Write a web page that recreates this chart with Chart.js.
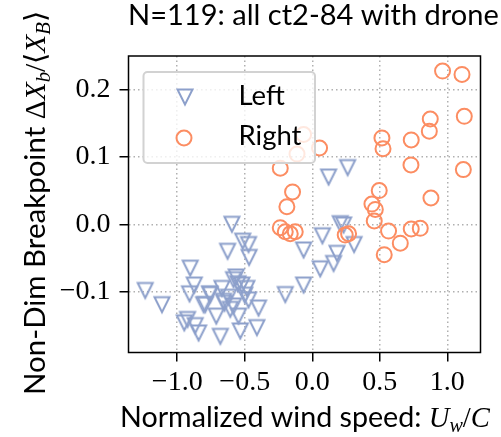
<!DOCTYPE html>
<html>
<head>
<meta charset="utf-8">
<script src="https://cdn.jsdelivr.net/npm/chart.js@4.4.1/dist/chart.umd.min.js"></script>
<style>
html, body { margin: 0; padding: 0; background: #fff; }
</style>
</head>
<body>
<canvas id="chart" width="501" height="437"></canvas>
<script>
// values
var seriesNames = ['Left', 'Right'];

var leftX = [-1.237, -1.113, -0.904, -0.874, -0.909, -0.948, -0.924, -0.867, -0.842, -0.761,
             -0.805, -0.669, -0.711, -0.681, -0.627, -0.595, -0.650, -0.607, -0.583, -0.515,
             -0.472, -0.468, -0.563, -0.521, -0.484, -0.756, -0.793, -0.657, -0.583, -0.472,
             -0.398, -0.546, -0.533, -0.410, -0.200, -0.064, -0.064, 0.121, 0.262, 0.075,
             0.207, 0.232, 0.310, 0.183, 0.158, 0.059, -0.550, -0.500, -0.620];
var leftY = [-0.098, -0.119, -0.065, -0.090, -0.103, -0.146, -0.141, -0.150, -0.161, -0.103,
             -0.119, -0.095, -0.136, -0.166, -0.040, 0.000, -0.117, -0.126, -0.082, -0.025,
             -0.030, -0.049, -0.078, -0.090, -0.095, -0.104, -0.119, -0.114, -0.121, -0.112,
             -0.124, -0.136, -0.158, -0.153, -0.104, -0.090, -0.038, 0.070, 0.084, -0.017,
             0.001, -0.001, -0.030, -0.043, -0.058, -0.066, -0.088, -0.105, -0.108];

var rightX = [0.965, 1.109, 1.126, 0.874, 0.867, 0.516, 0.524, 0.733, 0.731, 1.119,
              0.496, 0.879, 0.442, 0.467, 0.459, 0.565, 0.733, 0.800, 0.652, 0.533,
              -0.064, -0.113, 0.054, -0.237, -0.146, -0.188, -0.237, -0.200, -0.163, -0.126,
              0.244, 0.269];
var rightY = [0.227, 0.222, 0.160, 0.156, 0.138, 0.128, 0.112, 0.125, 0.088, 0.081,
              0.050, 0.039, 0.030, 0.022, 0.005, -0.010, -0.007, -0.006, -0.028, -0.045,
              0.133, 0.104, 0.113, 0.083, 0.048, 0.026, -0.005, -0.011, -0.014, -0.011,
              -0.016, -0.014];

var xTicks = [-1.0, -0.5, 0.0, 0.5, 1.0];
var yTicks = [-0.1, 0.0, 0.1, 0.2];

var blue = '#8da0cb';
var orange = '#fc8d62';
var SANS = 'Lato';
var SERIF = '"Liberation Serif"';

function toPoints(xs, ys) {
    return xs.map(function (x, i) { return { x: x, y: ys[i] }; });
}

// matplotlib style "v" marker, open
function makeTriangle(color) {
    var c = document.createElement('canvas');
    c.width = 26; c.height = 26;
    var g = c.getContext('2d');
    var s = 7.5, m = 13;
    g.strokeStyle = color;
    g.lineWidth = 2;
    g.lineJoin = 'miter';
    g.beginPath();
    g.moveTo(m - s, m - s);
    g.lineTo(m + s, m - s);
    g.lineTo(m, m + s);
    g.closePath();
    g.stroke();
    return c;
}
var triImg = makeTriangle(blue);

function minusFmt(v) {
    return v.toFixed(1).replace('-', '\u2212');
}

// draws text pieces in mixed fonts, scaled to fill a target width
function drawRich(ctx, segs, cx, baseline, target) {
    var base = 100, total = 0;
    segs.forEach(function (s) {
        ctx.font = (s.style || '') + ' ' + (base * (s.rel || 1)) + 'px ' + s.fam;
        total += ctx.measureText(s.t).width;
    });
    var k = target / total;
    var x = cx - target / 2;
    ctx.textBaseline = 'alphabetic';
    ctx.textAlign = 'left';
    segs.forEach(function (s) {
        var size = base * (s.rel || 1) * k;
        ctx.font = (s.style || '') + ' ' + size + 'px ' + s.fam;
        ctx.fillText(s.t, x, baseline + (s.dy || 0) * base * k);
        x += ctx.measureText(s.t).width;
    });
}

var decor = {
    id: 'decor',
    afterDatasetsDraw: function (chart) {
        var ctx = chart.ctx, a = chart.chartArea;
        ctx.save();
        // legend box
        var bx = 143.5, by = 72, bw = 171.5, bh = 91, r = 4;
        ctx.beginPath();
        ctx.roundRect(bx, by, bw, bh, r);
        ctx.fillStyle = 'rgba(255,255,255,0.8)';
        ctx.fill();
        ctx.strokeStyle = '#d2d2d2';
        ctx.lineWidth = 2;
        ctx.stroke();
        ctx.drawImage(triImg, 185 - 13, 97 - 13);
        ctx.beginPath();
        ctx.arc(184, 138, 7.5, 0, Math.PI * 2);
        ctx.strokeStyle = orange;
        ctx.lineWidth = 2;
        ctx.stroke();
        ctx.fillStyle = '#000';
        ctx.font = '100px ' + SANS;
        var ls = 100 * 63 / ctx.measureText(seriesNames[1]).width;
        ctx.font = ls + 'px ' + SANS;
        ctx.textAlign = 'left';
        ctx.textBaseline = 'alphabetic';
        ctx.fillText(seriesNames[0], 238.5, 105);
        ctx.fillText(seriesNames[1], 238.5, 145);

        // frame
        ctx.strokeStyle = '#000';
        ctx.lineWidth = 1.5;
        ctx.strokeRect(a.left, a.top, a.right - a.left, a.bottom - a.top);
        ctx.restore();
    },
    afterDraw: function (chart) {
        var ctx = chart.ctx;
        ctx.save();
        ctx.fillStyle = '#000';
        // title
        drawRich(ctx, [{ t: 'N=119: all ct2-84 with drone', fam: SANS }], 313.5, 25, 371);
        // x label
        drawRich(ctx, [
            { t: 'Normalized wind speed: ', fam: SANS },
            { t: 'U', fam: SERIF, style: 'italic' },
            { t: 'w', fam: SERIF, style: 'italic', rel: 0.7, dy: 0.18 },
            { t: '/', fam: SERIF },
            { t: 'C', fam: SERIF, style: 'italic' }
        ], 305, 427, 370);
        // y label
        ctx.translate(45, 202.5);
        ctx.rotate(-Math.PI / 2);
        drawRich(ctx, [
            { t: 'Non-Dim Breakpoint ', fam: SANS },
            { t: '\u0394', fam: SERIF },
            { t: 'X', fam: SERIF, style: 'italic' },
            { t: 'b', fam: SERIF, style: 'italic', rel: 0.7, dy: 0.18 },
            { t: '/\u27E8', fam: SERIF },
            { t: 'X', fam: SERIF, style: 'italic' },
            { t: 'B', fam: SERIF, style: 'italic', rel: 0.7, dy: 0.18 },
            { t: '\u27E9', fam: SERIF }
        ], 0, 0, 385);
        ctx.restore();
    }
};

var ctx = document.getElementById('chart').getContext('2d');
new Chart(ctx, {
    type: 'scatter',
    data: {
        datasets: [{
            label: seriesNames[0],
            data: toPoints(leftX, leftY),
            pointStyle: triImg,
            order: 1
        }, {
            label: seriesNames[1],
            data: toPoints(rightX, rightY),
            pointStyle: 'circle',
            pointRadius: 7.5,
            borderWidth: 2,
            borderColor: orange,
            backgroundColor: 'rgba(0,0,0,0)',
            order: 0
        }]
    },
    options: {
        responsive: false,
        animation: false,
        events: [],
        layout: { padding: { top: 56, right: 20.5, left: 0, bottom: 0 } },
        plugins: { legend: { display: false }, tooltip: { enabled: false }, title: { display: false } },
        scales: {
            x: {
                type: 'linear',
                min: -1.361,
                max: 1.246,
                afterFit: function (s) { s.height = 84.5; },
                afterBuildTicks: function (s) { s.ticks = xTicks.map(function (v) { return { value: v }; }); },
                grid: { color: '#b0b0b0', lineWidth: 1.5, tickLength: 9, tickColor: '#000', tickWidth: 1.5 },
                border: { display: false, dash: [1.5, 3] },
                ticks: {
                    color: '#000', padding: 4, maxRotation: 0, autoSkip: false,
                    font: { family: 'Liberation Serif', size: 28 },
                    callback: function (v) { return minusFmt(v); }
                }
            },
            y: {
                type: 'linear',
                min: -0.1899,
                max: 0.2493,
                afterFit: function (s) { s.width = 128.5; },
                afterBuildTicks: function (s) { s.ticks = yTicks.map(function (v) { return { value: v }; }); },
                grid: { color: '#b0b0b0', lineWidth: 1.5, tickLength: 9, tickColor: '#000', tickWidth: 1.5 },
                border: { display: false, dash: [1.5, 3] },
                ticks: {
                    color: '#000', padding: 9, autoSkip: false,
                    font: { family: 'Liberation Serif', size: 28 },
                    callback: function (v) { return minusFmt(v); }
                }
            }
        }
    },
    plugins: [decor]
});
</script>
</body>
</html>
